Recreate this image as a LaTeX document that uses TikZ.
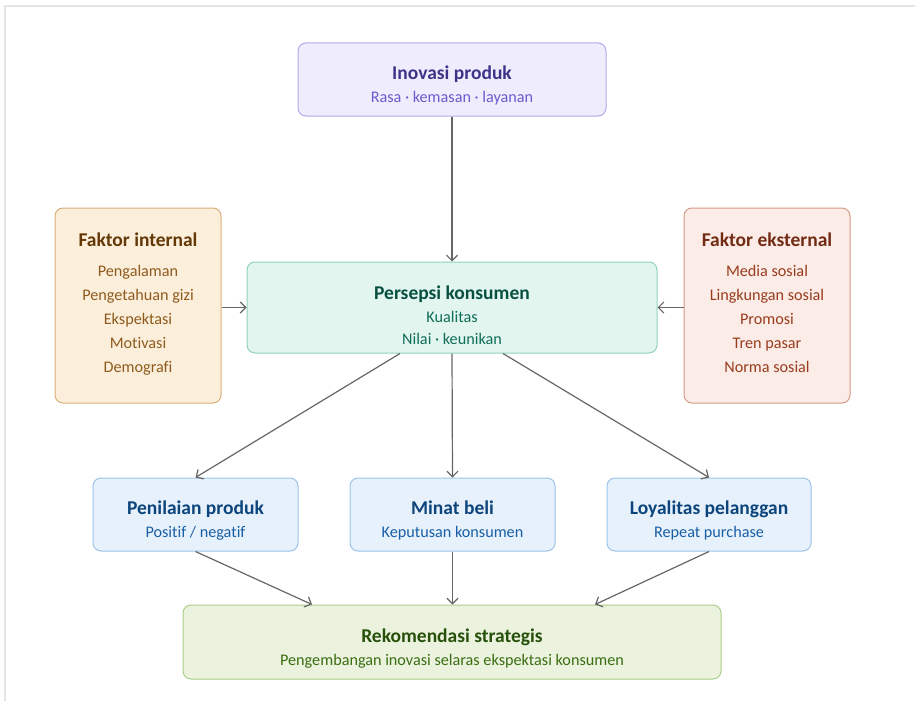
\documentclass[tikz,border=0pt]{standalone}
\usepackage{fontspec}
\setmainfont[Ligatures={NoCommon}]{Carlito}
\usetikzlibrary{arrows.meta}
\definecolor{pFill}{HTML}{EFEDFD}\definecolor{pDraw}{HTML}{B3A9EC}\definecolor{pT}{HTML}{3C3489}\definecolor{pS}{HTML}{6A5BCF}
\definecolor{oFill}{HTML}{FBEEDB}\definecolor{oDraw}{HTML}{D9B07A}\definecolor{oT}{HTML}{633806}\definecolor{oS}{HTML}{8F5B1D}
\definecolor{rFill}{HTML}{FBECE7}\definecolor{rDraw}{HTML}{D69A85}\definecolor{rT}{HTML}{712B13}\definecolor{rS}{HTML}{993C1D}
\definecolor{tFill}{HTML}{E2F5EE}\definecolor{tDraw}{HTML}{90D3B9}\definecolor{tT}{HTML}{085041}\definecolor{tS}{HTML}{0F6E56}
\definecolor{bFill}{HTML}{E7F1FB}\definecolor{bDraw}{HTML}{9DC3EA}\definecolor{bT}{HTML}{0C447C}\definecolor{bS}{HTML}{185FA5}
\definecolor{gFill}{HTML}{EBF3DF}\definecolor{gDraw}{HTML}{AACF88}\definecolor{gT}{HTML}{27500A}\definecolor{gS}{HTML}{3B6D11}
\definecolor{arr}{HTML}{666666}
\tikzset{
  boxbase/.style={rounded corners=8pt, line width=1pt, inner sep=0pt},
  ttl/.style={anchor=base, font=\fontsize{19.5}{22}\selectfont\bfseries, inner sep=0pt},
  sub/.style={anchor=base, font=\fontsize{16.2}{19}\selectfont, inner sep=0pt},
  conn/.style={draw=arr, line width=1.2pt, -{Straight Barb[length=5.5pt,width=11pt,line width=1.2pt]}},
}
\begin{document}
\begin{tikzpicture}[x=1pt,y=-1pt]
\useasboundingbox (0,0) rectangle (915,701);
\fill[white] (0,0) rectangle (915,701);
\draw[line width=1.5pt, black!10] (5,701) -- (5,6) -- (915,6);
% boxes
\node[boxbase, fill=pFill, draw=pDraw, minimum width=308pt, minimum height=73pt] (inov) at (452,79.5) {};
\node[boxbase, fill=oFill, draw=oDraw, minimum width=166pt, minimum height=195pt] (int) at (138,305.5) {};
\node[boxbase, fill=rFill, draw=rDraw, minimum width=166pt, minimum height=195pt] (ext) at (767,305.5) {};
\node[boxbase, fill=tFill, draw=tDraw, minimum width=410pt, minimum height=91pt] (pers) at (452,307.5) {};
\node[boxbase, fill=bFill, draw=bDraw, minimum width=205pt, minimum height=73pt] (pen) at (195.5,514.5) {};
\node[boxbase, fill=bFill, draw=bDraw, minimum width=205pt, minimum height=73pt] (min) at (452.5,514.5) {};
\node[boxbase, fill=bFill, draw=bDraw, minimum width=204pt, minimum height=73pt] (loy) at (709,514.5) {};
\node[boxbase, fill=gFill, draw=gDraw, minimum width=538pt, minimum height=74pt] (rek) at (452,642) {};
% texts
\node[ttl, text=pT] (inov-t) at (452,79.5) {Inovasi produk};
\node[sub, text=pS] (inov-s) at (452,102.5) {Rasa · kemasan · layanan};
\node[ttl, text=oT] (int-t) at (138,246.5) {Faktor internal};
\node[sub, text=oS] (int-1) at (138,276) {Pengalaman};
\node[sub, text=oS] (int-2) at (138,300) {Pengetahuan gizi};
\node[sub, text=oS] (int-3) at (138,324) {Ekspektasi};
\node[sub, text=oS] (int-4) at (138,348) {Motivasi};
\node[sub, text=oS] (int-5) at (138,372) {Demografi};
\node[ttl, text=rT] (ext-t) at (767,246.5) {Faktor eksternal};
\node[sub, text=rS] (ext-1) at (767,276) {Media sosial};
\node[sub, text=rS] (ext-2) at (767,300) {Lingkungan sosial};
\node[sub, text=rS] (ext-3) at (767,324) {Promosi};
\node[sub, text=rS] (ext-4) at (767,348) {Tren pasar};
\node[sub, text=rS] (ext-5) at (767,372) {Norma sosial};
\node[ttl, text=tT] (pers-t) at (452,299) {Persepsi konsumen};
\node[sub, text=tS] (pers-1) at (452,322.5) {Kualitas};
\node[sub, text=tS] (pers-2) at (452,344.5) {Nilai · keunikan};
\node[ttl, text=bT] (pen-t) at (195.5,514.5) {Penilaian produk};
\node[sub, text=bS] (pen-s) at (195.5,537.5) {Positif / negatif};
\node[ttl, text=bT] (min-t) at (452.5,514.5) {Minat beli};
\node[sub, text=bS] (min-s) at (452.5,537.5) {Keputusan konsumen};
\node[ttl, text=bT] (loy-t) at (709,514.5) {Loyalitas pelanggan};
\node[sub, text=bS] (loy-s) at (709,537.5) {Repeat purchase};
\node[ttl, text=gT] (rek-t) at (452,642.5) {Rekomendasi strategis};
\node[sub, text=gS] (rek-s) at (452,665) {Pengembangan inovasi selaras ekspektasi konsumen};
% connectors
\draw[conn] (inov.south) -- (pers.north);
\draw[conn] (int.east |- pers.west) -- (pers.west);
\draw[conn] (ext.west |- pers.east) -- (pers.east);
\draw[conn] ([xshift=-52pt]pers.south) -- (pen.north);
\draw[conn] (pers.south) -- (min.north);
\draw[conn] ([xshift=51pt]pers.south) -- (loy.north);
\draw[conn] (pen.south) -- ([xshift=-140pt]rek.north);
\draw[conn] (min.south) -- ([xshift=0.5pt]rek.north);
\draw[conn] (loy.south) -- ([xshift=143pt]rek.north);
\end{tikzpicture}
\end{document}
